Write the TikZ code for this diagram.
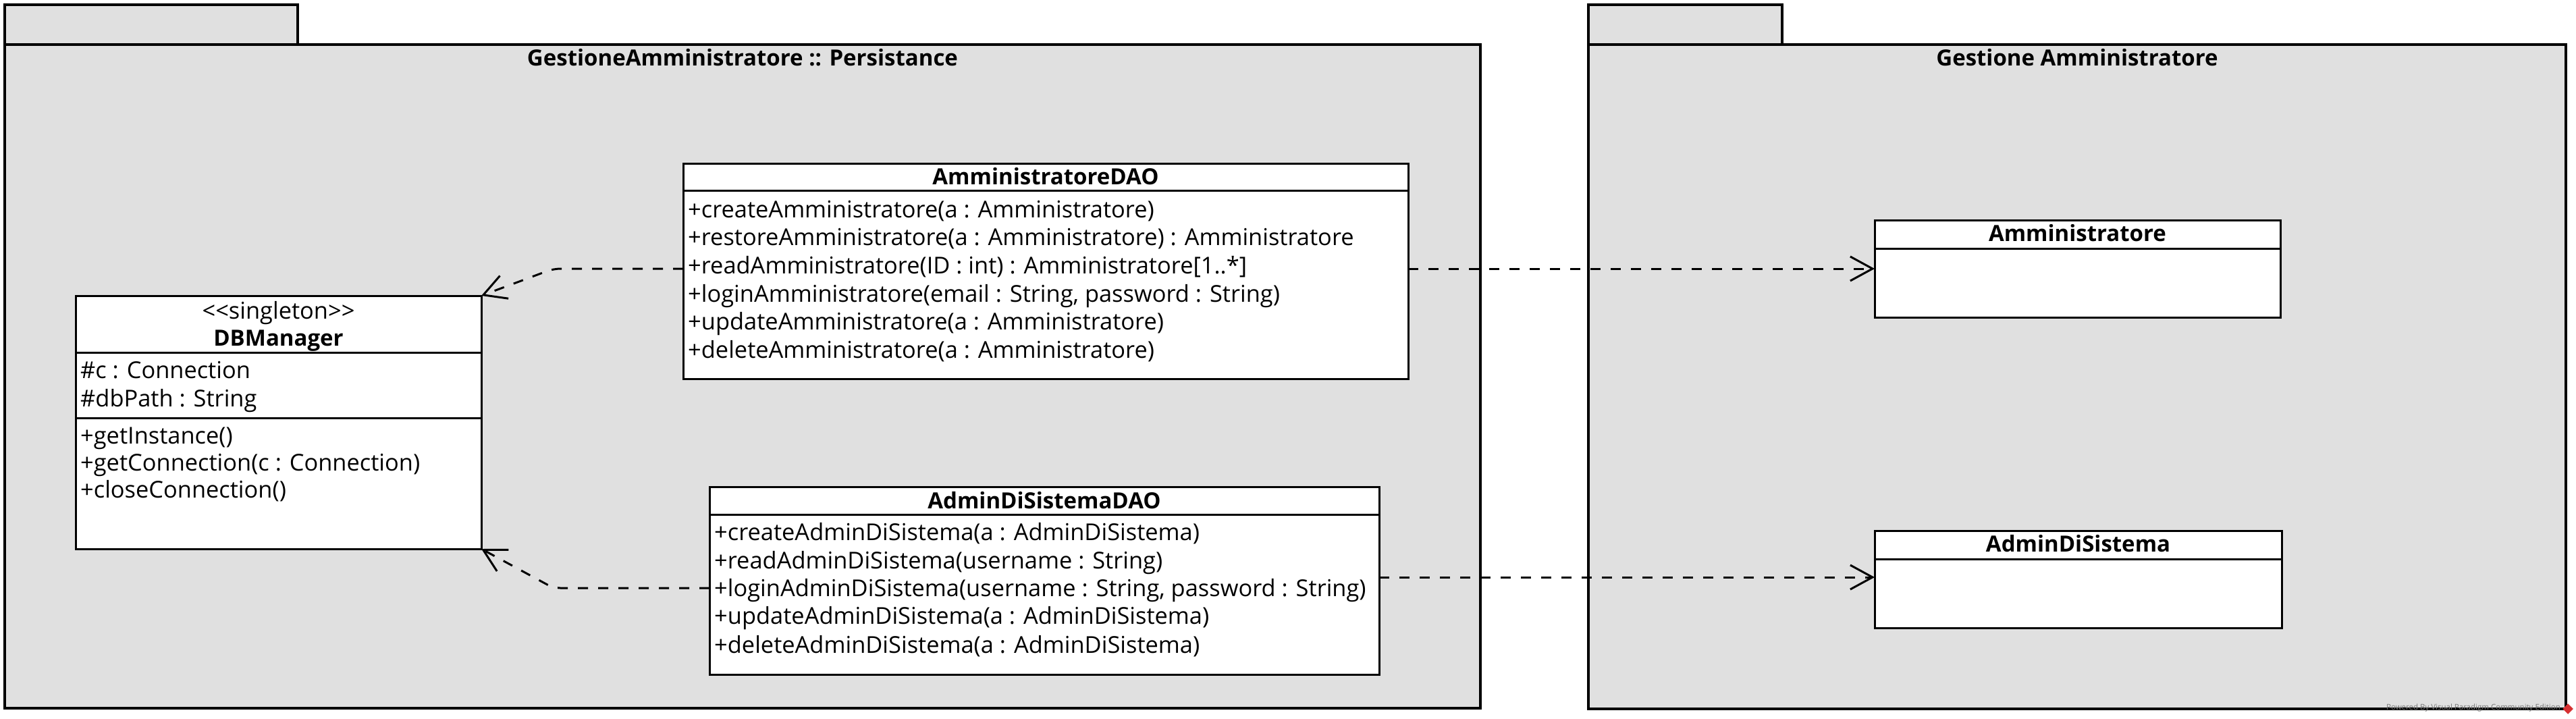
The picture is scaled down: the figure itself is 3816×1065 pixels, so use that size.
\documentclass[tikz,border=0pt]{standalone}
\usepackage{fontspec}
\setmainfont{Open Sans}
\usetikzlibrary{arrows.meta}
\definecolor{pkggray}{RGB}{224,224,224}
\definecolor{wmgray}{RGB}{120,120,120}
\definecolor{vpred}{RGB}{214,48,49}
\tikzset{
  pkg/.style={draw, line width=3.5pt, fill=pkggray, anchor=north west, inner sep=0pt, outer sep=0pt},
  cls/.style={draw, line width=3pt, fill=white, anchor=north west, inner sep=0pt, outer sep=0pt},
  divider/.style={line width=3pt},
  optxt/.style={anchor=base west, inner sep=0pt, font=\fontsize{34.4}{40}\selectfont},
  ctxt/.style={anchor=base, inner sep=0pt, font=\fontsize{34.4}{40}\selectfont},
  ttl/.style={anchor=base, inner sep=0pt, font=\bfseries\fontsize{33}{40}\selectfont},
  dep/.style={line width=3pt, dash pattern=on 15pt off 15pt, rounded corners=10pt,
    -{Straight Barb[length=33pt,width=36pt,line width=3pt]}},
}
\begin{document}
\begin{tikzpicture}[x=1pt,y=-1pt]
\useasboundingbox (0,0) rectangle (3816,1065);
\fill[white] (0,0) rectangle (3816,1065);

% ---------- left package ----------
\node[pkg, minimum width=434pt, minimum height=59pt] (ltab) at (7,7) {};
\node[pkg, minimum width=2186pt, minimum height=983pt] (lpkg) at (7,66) {};
\node[ttl] (ltitle) at (1100,97) {GestioneAmministratore :: Persistance};

% ---------- right package ----------
\node[pkg, minimum width=287pt, minimum height=59pt] (rtab) at (2353,7) {};
\node[pkg, minimum width=1448pt, minimum height=984pt] (rpkg) at (2353,66) {};
\node[ttl] (rtitle) at (3077,97) {Gestione Amministratore};

% ---------- DBManager ----------
\node[cls, minimum width=601pt, minimum height=375pt] (db) at (112,438) {};
\draw[divider] (112,522) -- (713,522);
\draw[divider] (112,619) -- (713,619);
\node[ctxt] (dbst) at (412.5,472) {{<}{<}singleton{>}{>}};
\node[ttl] (dbname) at (412.5,512) {DBManager};
\node[optxt] (dba1) at (119,560) {\#c : Connection};
\node[optxt] (dba2) at (119,602) {\#dbPath : String};
\node[optxt] (dbo1) at (119,657) {+getInstance()};
\node[optxt] (dbo2) at (119,697) {+getConnection(c : Connection)};
\node[optxt] (dbo3) at (119,737) {+closeConnection()};

% ---------- AmministratoreDAO ----------
\node[cls, minimum width=1074pt, minimum height=319pt] (adao) at (1012,242) {};
\draw[divider] (1012,282) -- (2086,282);
\node[ttl] (adaoname) at (1549,273) {AmministratoreDAO};
\node[optxt] (ad1) at (1019,322) {+createAmministratore(a : Amministratore)};
\node[optxt] (ad2) at (1019,363) {+restoreAmministratore(a : Amministratore) : Amministratore};
\node[optxt] (ad3) at (1019,405) {+readAmministratore(ID : int) : Amministratore[1..*]};
\node[optxt] (ad4) at (1019,447) {+loginAmministratore(email : String, password : String)};
\node[optxt] (ad5) at (1019,488) {+updateAmministratore(a : Amministratore)};
\node[optxt] (ad6) at (1019,530) {+deleteAmministratore(a : Amministratore)};

% ---------- AdminDiSistemaDAO ----------
\node[cls, minimum width=992pt, minimum height=278pt] (asdao) at (1051,721) {};
\draw[divider] (1051,762) -- (2043,762);
\node[ttl] (asdaoname) at (1547,753) {AdminDiSistemaDAO};
\node[optxt] (as1) at (1058,800) {+createAdminDiSistema(a : AdminDiSistema)};
\node[optxt] (as2) at (1058,842) {+readAdminDiSistema(username : String)};
\node[optxt] (as3) at (1058,883) {+loginAdminDiSistema(username : String, password : String)};
\node[optxt] (as4) at (1058,924) {+updateAdminDiSistema(a : AdminDiSistema)};
\node[optxt] (as5) at (1058,967) {+deleteAdminDiSistema(a : AdminDiSistema)};

% ---------- Amministratore ----------
\node[cls, minimum width=601pt, minimum height=144pt] (amm) at (2777,326) {};
\draw[divider] (2777,368) -- (3378,368);
\node[ttl] (ammname) at (3077.5,357) {Amministratore};

% ---------- AdminDiSistema ----------
\node[cls, minimum width=603pt, minimum height=144pt] (ads) at (2777,786) {};
\draw[divider] (2777,828) -- (3380,828);
\node[ttl] (adsname) at (3078.5,817) {AdminDiSistema};

% ---------- connectors ----------
\coordinate (p1) at (1012,398);
\coordinate (k1) at (820,398);
\coordinate (p2) at (1051,871);
\coordinate (k2) at (820,871);
\coordinate (p3) at (2086,398);
\coordinate (p4) at (2043,855);
\draw[dep] (p1) -- (k1) -- (db.north east);
\draw[dep] (p2) -- (k2) -- (db.south east);
\draw[dep] (p3) -- (amm.west |- p3);
\draw[dep] (p4) -- (ads.west |- p4);

% ---------- watermark ----------
\node[anchor=base east, inner sep=0pt, text=wmgray, font=\fontsize{11.5}{13}\selectfont] (wm) at (3793,1051) {Powered By Visual Paradigm Community Edition};
\node[fill=vpred, minimum size=11pt, inner sep=0pt, rotate=45] (logo) at (3804,1050) {};
\end{tikzpicture}
\end{document}
